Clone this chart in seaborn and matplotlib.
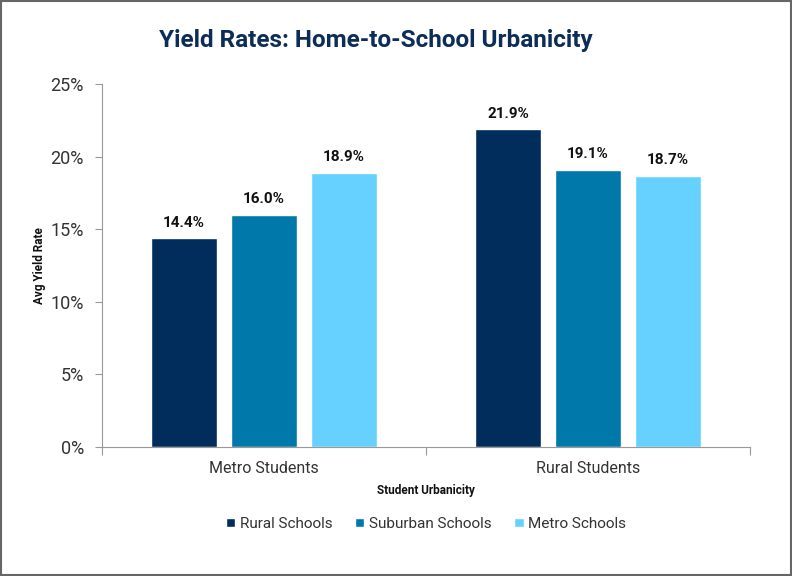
import matplotlib
matplotlib.use("Agg")
import matplotlib.pyplot as plt
import seaborn as sns
import pandas as pd
from matplotlib.patches import Rectangle
from matplotlib.ticker import FuncFormatter

student_groups = ["Metro Students", "Rural Students"]
school_types = ["Rural Schools", "Suburban Schools", "Metro Schools"]
rural_schools = [14.4, 21.9]
suburban_schools = [16.0, 19.1]
metro_schools = [18.9, 18.7]
colors = ["#002D5C", "#0079AA", "#66D1FF"]

rows = []
for i, g in enumerate(student_groups):
    for s, vals in zip(school_types, [rural_schools, suburban_schools, metro_schools]):
        rows.append({"group": g, "school": s, "rate": vals[i]})
df = pd.DataFrame(rows)

sns.set_theme(style="white")
plt.rcParams['font.family'] = ['Roboto', 'DejaVu Sans']

fig = plt.figure(figsize=(7.92, 5.76), dpi=100)
ax = fig.add_axes([0.1288, 0.224, 0.818, 0.630])

sns.barplot(data=df, x="group", y="rate", hue="school", hue_order=school_types,
            palette=colors, width=0.74, gap=0.175, ax=ax, legend=True, saturation=1)

for cont in ax.containers:
    ax.bar_label(cont, labels=[f"{v:.1f}%" for v in cont.datavalues], padding=6,
                 fontsize=11, fontweight="bold", color="#111111")

ax.set_ylim(0, 25)
ax.set_xlim(-0.5, 1.5)
ax.set_yticks([0, 5, 10, 15, 20, 25])
ax.yaxis.set_major_formatter(FuncFormatter(lambda v, p: f"{int(v)}%"))
ax.tick_params(axis="y", labelsize=13, labelcolor="#333333", length=5, color="#999999",
               left=True, direction="out", width=0.8, pad=8)
ax.tick_params(axis="x", which="major", length=0, labelsize=11.5, labelcolor="#333333", pad=10)
ax.set_xticks([-0.5, 0.5, 1.5], minor=True)
ax.tick_params(axis="x", which="minor", length=6, color="#999999", bottom=True, width=0.8)

for sp in ["top", "right"]:
    ax.spines[sp].set_visible(False)
for sp in ["left", "bottom"]:
    ax.spines[sp].set_color("#999999")
    ax.spines[sp].set_linewidth(0.8)

ax.set_ylabel("Avg Yield Rate", fontsize=8.5, fontweight="bold", color="#111111", labelpad=3)
ax.set_xlabel("Student Urbanicity", fontsize=8.5, fontweight="bold", color="#111111", labelpad=6)

ax.legend(handles=ax.get_legend().legend_handles, labels=school_types,
          loc="upper center", bbox_to_anchor=(0.5, -0.155), ncol=3, frameon=False,
          fontsize=11, handlelength=0.6, handleheight=0.6, handletextpad=0.3,
          columnspacing=1.5, labelcolor="#333333")

fig.text(0.474, 0.93, "Yield Rates: Home-to-School Urbanicity", ha="center", va="center",
         fontsize=17.5, fontweight="bold", color="#0C2D57")

fig.patches.append(Rectangle((0.001, 0.001), 0.998, 0.998, transform=fig.transFigure,
                             fill=False, edgecolor="#666666", linewidth=1.5))

fig.savefig("out.png", dpi=100)
